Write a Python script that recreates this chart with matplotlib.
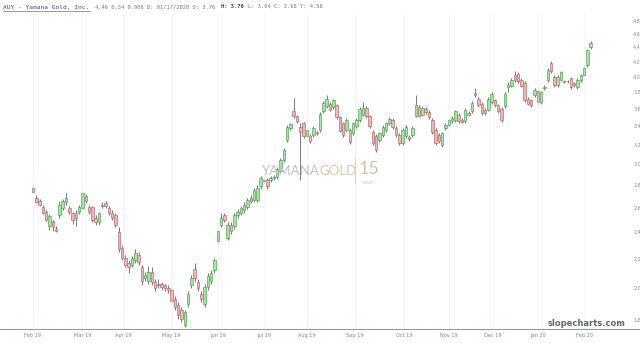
"""AUY daily candles, slopecharts style."""

import numpy as np
import matplotlib.pyplot as plt
from matplotlib.lines import Line2D

opens = [
    2.78, 2.69, 2.66, 2.61, 2.57, 2.45, 2.49, 2.43, 2.54, 2.60,
    2.65, 2.60, 2.56, 2.52, 2.57, 2.60, 2.70, 2.61, 2.61, 2.52,
    2.48, 2.62, 2.64, 2.60, 2.56, 2.54, 2.40, 2.28, 2.21, 2.17,
    2.16, 2.19, 2.23, 2.14, 2.07, 2.05, 2.11, 2.04, 2.03, 2.03,
    2.02, 2.00, 1.99, 1.93, 1.89, 1.86, 1.77, 1.90, 2.02, 2.13,
    2.04, 1.96, 1.90, 2.01, 2.05, 2.12, 2.33, 2.46, 2.54, 2.36,
    2.46, 2.45, 2.54, 2.56, 2.63, 2.61, 2.69, 2.67, 2.67, 2.79,
    2.85, 2.85, 2.85, 2.87, 2.88, 2.94, 3.04, 3.25, 3.38, 3.57,
    3.51, 3.39, 3.43, 3.29, 3.29, 3.30, 3.33, 3.36, 3.57, 3.63,
    3.66, 3.62, 3.64, 3.50, 3.43, 3.36, 3.36, 3.32, 3.40, 3.47,
    3.53, 3.61, 3.51, 3.34, 3.29, 3.25, 3.30, 3.36, 3.43, 3.47,
    3.38, 3.30, 3.22, 3.29, 3.28, 3.30, 3.52, 3.62, 3.53, 3.60,
    3.56, 3.47, 3.36, 3.30, 3.20, 3.38, 3.41, 3.46, 3.47, 3.53,
    3.47, 3.46, 3.55, 3.57, 3.76, 3.72, 3.66, 3.59, 3.59, 3.68,
    3.70, 3.64, 3.60, 3.63, 3.86, 3.88, 4.02, 4.04, 3.96, 3.92,
    3.72, 3.70, 3.76, 3.81, 3.68, 3.85, 3.95, 4.18, 4.00, 3.89,
    3.96, 3.94, 3.94, 3.98, 3.91, 3.86, 3.95, 4.02, 4.15, 4.40,
]
closes = [
    2.74, 2.65, 2.63, 2.56, 2.50, 2.53, 2.44, 2.41, 2.63, 2.66,
    2.69, 2.57, 2.50, 2.56, 2.61, 2.73, 2.66, 2.57, 2.50, 2.48,
    2.56, 2.63, 2.62, 2.56, 2.52, 2.46, 2.27, 2.21, 2.16, 2.14,
    2.21, 2.24, 2.18, 2.05, 2.09, 2.11, 2.04, 2.00, 2.02, 2.01,
    2.00, 1.99, 1.92, 1.88, 1.83, 1.81, 1.85, 1.96, 2.07, 2.07,
    2.00, 1.93, 2.01, 2.08, 2.10, 2.19, 2.41, 2.52, 2.50, 2.46,
    2.41, 2.54, 2.57, 2.60, 2.58, 2.67, 2.66, 2.76, 2.78, 2.87,
    2.84, 2.79, 2.87, 2.88, 2.95, 3.04, 3.14, 3.39, 3.42, 3.51,
    3.46, 3.33, 3.29, 3.36, 3.24, 3.38, 3.32, 3.54, 3.67, 3.72,
    3.59, 3.70, 3.50, 3.35, 3.30, 3.47, 3.23, 3.43, 3.47, 3.60,
    3.61, 3.51, 3.40, 3.22, 3.14, 3.32, 3.39, 3.43, 3.48, 3.39,
    3.30, 3.22, 3.36, 3.39, 3.26, 3.38, 3.64, 3.52, 3.61, 3.56,
    3.50, 3.33, 3.22, 3.24, 3.32, 3.41, 3.47, 3.49, 3.57, 3.46,
    3.45, 3.59, 3.53, 3.67, 3.79, 3.64, 3.55, 3.55, 3.72, 3.78,
    3.64, 3.57, 3.47, 3.78, 3.89, 3.96, 3.95, 3.94, 3.88, 3.70,
    3.66, 3.64, 3.83, 3.68, 3.80, 3.87, 4.09, 4.07, 3.89, 4.00,
    4.06, 3.93, 3.94, 3.86, 3.89, 3.96, 4.02, 4.12, 4.36, 4.47,
]
highs = [
    2.81, 2.71, 2.68, 2.63, 2.58, 2.55, 2.50, 2.45, 2.66, 2.68,
    2.73, 2.62, 2.57, 2.58, 2.63, 2.74, 2.72, 2.63, 2.62, 2.54,
    2.57, 2.65, 2.66, 2.62, 2.58, 2.56, 2.44, 2.30, 2.23, 2.19,
    2.22, 2.27, 2.25, 2.16, 2.11, 2.15, 2.14, 2.06, 2.06, 2.04,
    2.03, 2.02, 2.00, 1.95, 1.91, 1.88, 1.86, 1.98, 2.09, 2.17,
    2.06, 1.98, 2.03, 2.10, 2.12, 2.21, 2.43, 2.56, 2.56, 2.48,
    2.48, 2.56, 2.59, 2.62, 2.65, 2.69, 2.71, 2.78, 2.80, 2.89,
    2.87, 2.87, 2.89, 2.90, 2.97, 3.06, 3.16, 3.41, 3.44, 3.73,
    3.53, 3.43, 3.45, 3.38, 3.31, 3.40, 3.35, 3.56, 3.69, 3.76,
    3.68, 3.72, 3.66, 3.52, 3.45, 3.49, 3.38, 3.45, 3.49, 3.62,
    3.68, 3.63, 3.53, 3.36, 3.31, 3.34, 3.41, 3.45, 3.50, 3.49,
    3.40, 3.32, 3.38, 3.41, 3.30, 3.40, 3.77, 3.64, 3.63, 3.62,
    3.58, 3.49, 3.38, 3.32, 3.34, 3.43, 3.49, 3.51, 3.59, 3.55,
    3.49, 3.61, 3.57, 3.69, 3.85, 3.74, 3.68, 3.61, 3.74, 3.80,
    3.72, 3.66, 3.62, 3.80, 3.93, 3.98, 4.07, 4.06, 3.98, 3.94,
    3.74, 3.72, 3.85, 3.83, 3.82, 3.89, 4.11, 4.21, 4.02, 4.02,
    4.08, 3.96, 3.96, 4.00, 3.93, 3.98, 4.04, 4.14, 4.38, 4.50,
]
lows = [
    2.72, 2.64, 2.62, 2.55, 2.49, 2.42, 2.41, 2.40, 2.52, 2.58,
    2.63, 2.55, 2.47, 2.45, 2.55, 2.58, 2.64, 2.55, 2.48, 2.46,
    2.46, 2.60, 2.60, 2.54, 2.50, 2.44, 2.25, 2.19, 2.14, 2.10,
    2.14, 2.17, 2.16, 2.02, 2.05, 2.03, 2.02, 1.98, 2.00, 1.99,
    1.98, 1.97, 1.90, 1.86, 1.81, 1.79, 1.76, 1.88, 2.00, 2.05,
    1.98, 1.91, 1.88, 1.99, 2.03, 2.10, 2.31, 2.44, 2.48, 2.34,
    2.39, 2.43, 2.52, 2.54, 2.56, 2.59, 2.64, 2.65, 2.65, 2.77,
    2.82, 2.77, 2.83, 2.85, 2.86, 2.92, 3.02, 3.23, 3.36, 3.49,
    3.44, 2.85, 3.27, 3.27, 3.22, 3.28, 3.30, 3.34, 3.55, 3.61,
    3.57, 3.60, 3.48, 3.33, 3.28, 3.34, 3.21, 3.30, 3.38, 3.45,
    3.51, 3.49, 3.38, 3.20, 3.12, 3.23, 3.28, 3.34, 3.41, 3.37,
    3.28, 3.20, 3.20, 3.27, 3.24, 3.28, 3.50, 3.50, 3.51, 3.54,
    3.48, 3.31, 3.20, 3.22, 3.18, 3.36, 3.39, 3.44, 3.45, 3.44,
    3.43, 3.44, 3.51, 3.55, 3.74, 3.62, 3.53, 3.53, 3.57, 3.66,
    3.62, 3.55, 3.45, 3.61, 3.80, 3.86, 3.93, 3.92, 3.86, 3.68,
    3.64, 3.62, 3.74, 3.66, 3.66, 3.83, 3.93, 4.05, 3.87, 3.87,
    3.94, 3.91, 3.92, 3.84, 3.87, 3.84, 3.93, 4.00, 4.13, 4.38,
]

month_labels = ['Feb 19', 'Mar 19', 'Apr 19', 'May 19', 'Jun 19', 'Jul 19', 'Aug 19',
                'Sep 19', 'Oct 19', 'Nov 19', 'Dec 19', 'Jan 20', 'Feb 20']
month_pos = [0, 15, 27.5, 42, 56, 70, 83, 97.5, 112.5, 126, 139.5, 153, 167]
y_ticks = [1.8, 2.0, 2.2, 2.4, 2.6, 2.8, 3.0, 3.2, 3.4, 3.6, 3.8, 4.0, 4.2, 4.4, 4.6, 4.8]

W, H = 640, 343
fig = plt.figure(figsize=(6.4, 3.43), dpi=100)
ax = fig.add_axes([0, (H - 329) / H, 622 / W, (329 - 14) / H])

o = np.array(opens)
c = np.array(closes)
hi = np.array(highs)
lo = np.array(lows)
x = np.arange(len(o))
up = c >= o

ax.vlines(x, lo, hi, color='#555555', lw=0.55, zorder=1)
ax.bar(x[up], (c - o)[up], bottom=o[up], width=0.75, color='#a3e6a3',
       edgecolor='#4f9a4f', lw=0.45, zorder=2)
ax.bar(x[~up], (o - c)[~up], bottom=c[~up], width=0.75, color='#f0b5b5',
       edgecolor='#a86868', lw=0.45, zorder=2)

ax.set_yscale('log')
ax.set_ylim(1.749, 4.91)
ax.set_xlim(-10, 178.5)
ax.set_yticks(y_ticks)
ax.set_yticklabels(['%.1f' % v for v in y_ticks])
ax.minorticks_off()
ax.yaxis.tick_right()
ax.tick_params(axis='y', length=0, pad=8, labelsize=3.5, labelcolor='#8a8a8a')
ax.set_xticks(month_pos)
ax.set_xticklabels(month_labels)
ax.tick_params(axis='x', length=0, pad=3, labelsize=3.6, labelcolor='#5f9f5f')
ax.grid(axis='x', color='#f2f2f2', lw=0.6, zorder=0)
for s in ax.spines.values():
    s.set_visible(False)

fig.add_artist(Line2D([0, 1], [(H - 329) / H] * 2, color='#9a9a9a', lw=0.8))

# watermark: YAMANA + GOLD placed side by side
renderer = fig.canvas.get_renderer()
wm_y = 1 - 171 / H
t1 = fig.text(262 / W, wm_y, 'YAMANA', fontsize=9.5, family='Lato',
              color='#c2c2c2', va='center', zorder=0)
bb = t1.get_window_extent(renderer)
fig.text(bb.x1 / W, wm_y, 'GOLD', fontsize=9.5, family='Lato',
         color='#d8c8a4', va='center', zorder=0)
fig.add_artist(Line2D([355 / W] * 2, [1 - 158 / H, 1 - 183 / H], color='#e0d5bd', lw=0.8))
fig.text(359 / W, 1 - 169 / H, '15', fontsize=13, family='Lato',
         color='#d6c59f', va='center', zorder=0)
fig.text(362 / W, 1 - 183 / H, 'YEARS', fontsize=3, family='Lato', color='#d6c59f',
         va='center', zorder=0)

fig.text(548 / W, 1 - 324 / H, 'slopecharts.com', fontsize=6, weight='bold',
         color='#666666', va='center')

# header
hy = 1 - 7 / H
fig.text(3 / W, hy, 'AUY - Yamana Gold, Inc.', fontsize=4.5, family='DejaVu Sans Mono',
         color='#2d4f9e', va='center')
fig.add_artist(Line2D([3 / W, 90 / W], [1 - 10.5 / H] * 2, color='#2d4f9e', lw=0.4))
fig.text(95 / W, hy, '4.46 0.34 0.906 D: 01/17/2020 O: 3.76', fontsize=3.9,
         family='DejaVu Sans Mono', color='#777777', va='center')
fig.text(221 / W, hy, 'H: 3.76', fontsize=3.9, family='DejaVu Sans Mono', weight='bold',
         color='#444444', va='center')
fig.text(248 / W, hy, 'L: 3.64 C: 3.68 Y: 4.58', fontsize=3.9, family='DejaVu Sans Mono',
         color='#777777', va='center')

fig.savefig('out.png', dpi=100)
